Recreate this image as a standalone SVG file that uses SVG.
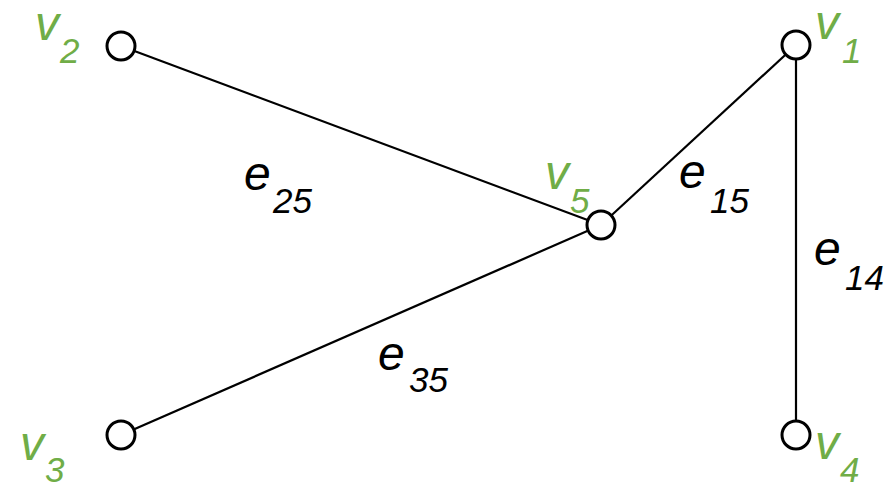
<svg xmlns="http://www.w3.org/2000/svg" width="895" height="485" viewBox="0 0 895 485">
<style>
.edge{stroke:#000;stroke-width:2.2;fill:none}
.node{fill:#fff;stroke:#000;stroke-width:3}
.lbl{font-family:"Liberation Sans",Arial,sans-serif;font-style:italic}
.vl{fill:#70ad47}
.el{fill:#000}
.big{font-size:48px}
.sub{font-size:35px}
</style>
<rect width="895" height="485" fill="#fff"/>
<g id="connectors">
<line class="edge" x1="121" y1="46" x2="601" y2="225"/>
<line class="edge" x1="121" y1="435" x2="601" y2="225"/>
<line class="edge" x1="601" y1="225" x2="796" y2="45"/>
<line class="edge" x1="796" y1="45" x2="796" y2="435"/>
</g>
<g id="edge-labels" class="lbl el">
<text class="big" x="244" y="190">e</text><text class="sub" x="273" y="213">25</text>
<text class="big" x="378" y="370">e</text><text class="sub" x="409" y="392">35</text>
<text class="big" x="679" y="188">e</text><text class="sub" x="710" y="213">15</text>
<text class="big" x="814" y="265">e</text><text class="sub" x="845" y="290">14</text>
</g>
<g id="v1"><circle class="node" cx="796" cy="45" r="14"/><text class="lbl vl big" x="815" y="39">v</text><text class="lbl vl sub" x="842" y="63">1</text></g>
<g id="v2"><circle class="node" cx="121" cy="46" r="14"/><text class="lbl vl big" x="35" y="40">v</text><text class="lbl vl sub" x="60" y="63">2</text></g>
<g id="v3"><circle class="node" cx="121" cy="435" r="14"/><text class="lbl vl big" x="20" y="460">v</text><text class="lbl vl sub" x="45" y="482">3</text></g>
<g id="v4"><circle class="node" cx="796" cy="435" r="14"/><text class="lbl vl big" x="815" y="459">v</text><text class="lbl vl sub" x="840" y="482">4</text></g>
<g id="v5"><circle class="node" cx="601" cy="225" r="14"/><text class="lbl vl big" x="545" y="189">v</text><text class="lbl vl sub" x="570" y="213">5</text></g>
</svg>
